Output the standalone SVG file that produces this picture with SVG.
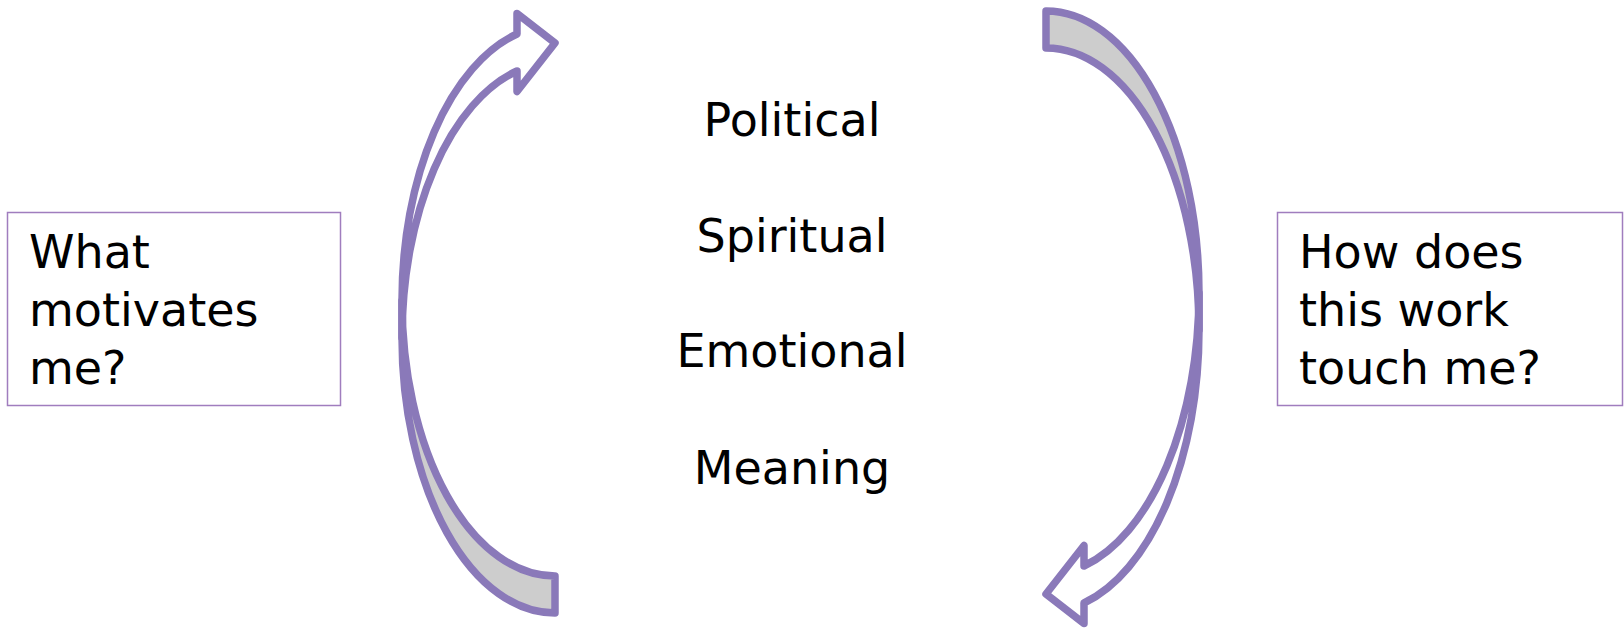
<svg xmlns="http://www.w3.org/2000/svg" width="1624" height="629" viewBox="0 0 1624 629">
  <style>
    .t { font-family: "DejaVu Sans", "Liberation Sans", sans-serif; font-size: 46px; fill: #000; }
    .c { text-anchor: middle; }
    .box { fill: #fff; stroke: #A07DBE; stroke-width: 1.5; }
    .front { fill: #fff; stroke: #8A79B9; stroke-width: 7.5; stroke-linejoin: round; }
    .back { fill: #CDCDCD; stroke: #8A79B9; stroke-width: 7.5; stroke-linejoin: round; }
  </style>
  <rect width="1624" height="629" fill="#fff"/>
  <g id="connectors">
    <g id="arrow-left">
      <path class="back" d="M 555 613 A 153 275.3 0 0 1 402 337.7 L 402 300.7 A 153 275.3 0 0 0 555 576 Z"/>
      <path class="front" d="M 402 300.7 A 153 275.3 0 0 1 517 34 L 517 13.5 L 555 43 L 517 91.5 L 517 71 A 153 275.3 0 0 0 402 337.7 Z"/>
    </g>
    <g id="arrow-right">
      <path class="back" d="M 1046 11 A 153 281.9 0 0 1 1199 292.9 L 1199 329.9 A 153 281.9 0 0 0 1046 48 Z"/>
      <path class="front" d="M 1199 329.9 A 153 281.9 0 0 1 1084 603 L 1084 623.5 L 1046 594 L 1084 545.5 L 1084 566 A 153 281.9 0 0 0 1199 292.9 Z"/>
    </g>
  </g>
  <g id="node-motivates">
    <rect class="box" x="7.5" y="212.5" width="333" height="193"/>
    <text class="t" x="29" y="268">What</text>
    <text class="t" x="29" y="326">motivates</text>
    <text class="t" x="29" y="384">me?</text>
  </g>
  <g id="node-touch">
    <rect class="box" x="1277.5" y="212.5" width="345" height="193"/>
    <text class="t" x="1299" y="268">How does</text>
    <text class="t" x="1299" y="326">this work</text>
    <text class="t" x="1299" y="384">touch me?</text>
  </g>
  <g id="node-political"><text class="t c" x="792" y="136">Political</text></g>
  <g id="node-spiritual"><text class="t c" x="792" y="252">Spiritual</text></g>
  <g id="node-emotional"><text class="t c" x="792" y="367">Emotional</text></g>
  <g id="node-meaning"><text class="t c" x="792" y="484">Meaning</text></g>
</svg>
